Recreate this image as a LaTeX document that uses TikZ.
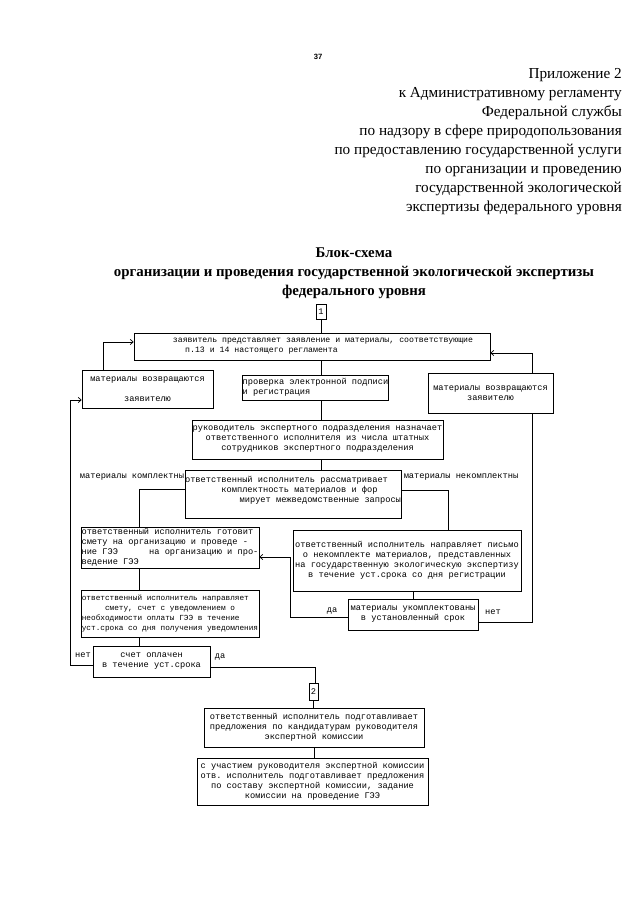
\documentclass[tikz,border=0pt]{standalone}
\usepackage{fontspec}
\setmainfont{Liberation Serif}
\setmonofont{Liberation Mono}
\newfontfamily\pagefont{Liberation Sans}
\usetikzlibrary{arrows.meta}
\newcommand{\boxfont}{\ttfamily\fontsize{7.4}{8.5}\selectfont}
\tikzset{
  block/.style 2 args={draw,line width=0.6pt,inner sep=0pt,font=\boxfont,
    minimum width=#1*0.03cm,minimum height=#2*0.03cm},
  narrow/.style={font=\ttfamily\fontsize{6.6}{8.5}\selectfont},
  note/.style={font=\boxfont,inner sep=0pt},
  flow/.style={line width=0.6pt}
}
\begin{document}
\begin{tikzpicture}[x=0.03cm,y=-0.03cm,>={Straight Barb[length=2.5pt,width=4.5pt]}]
  \useasboundingbox (0,0) rectangle (640,905);
  % header
  \node[at={(318,57)},font=\pagefont\bfseries\fontsize{6.5}{8}\selectfont] (page) {37};
  \node[at={(622,211)},anchor=base east,align=right,inner sep=0pt,
    font=\fontsize{13}{16.2}\selectfont] (annex) {Приложение 2\\%
    к Административному регламенту\\%
    Федеральной службы\\%
    по надзору в сфере природопользования\\%
    по предоставлению государственной услуги\\%
    по организации и проведению\\%
    государственной экологической\\%
    экспертизы федерального уровня};
  \node[at={(354,295)},anchor=base,align=center,inner sep=0pt,
    font=\bfseries\fontsize{12.7}{16.2}\selectfont] (title) {Блок-схема\\%
    организации и проведения государственной экологической экспертизы\\%
    федерального уровня};

  % top
  %boxes
  \node[block={10}{15},at={(321,311.5)}] (one) {1};
  \node[block={356}{27},font=\ttfamily\fontsize{7}{8.5}\selectfont,align=left,at={(312,346.5)}] (main)
    {\hspace*{18.8pt}заявитель представляет заявление и материалы, соответствующие\\
     \hspace*{18.8pt}\hspace*{1.5em}п.13 и 14 настоящего регламента};
  \node[block={131}{38},align=center,at={(147.5,389)}] (lret) {материалы возвращаются\\[8.5pt]заявителю};
  \node[block={145}{25},align=left,at={(315.5,387.5)}] (check) {проверка электронной подписи\\и регистрация};
  \node[block={125}{40},align=center,at={(490.5,393)}] (rret) {материалы возвращаются\\заявителю};
  \node[block={251}{39},align=center,at={(317.5,439.5)}] (head) {руководитель экспертного подразделения назначает\\
    ответственного исполнителя из числа штатных\\сотрудников экспертного подразделения};
  \node[block={204}{48},align=left,at={(293,494)}] (review) {ответственный исполнитель рассматривает\\
    \hspace*{4.2em}комплектность материалов и фор\\
    \hspace*{6.3em}мирует межведомственные запросы\\\mbox{}};

  % main
  %boxes
  \node[block={178}{41},align=left,at={(170,547.5)}] (estimate) {ответственный исполнитель готовит\\
    смету на организацию и проведе -\\
    ние ГЭЭ\hspace*{3em} на организацию и про-\\
    ведение ГЭЭ};
  \node[block={228}{61},align=center,at={(407,560.5)}] (letter) {ответственный исполнитель направляет письмо\\
    о некомплекте материалов, представленных\\
    на государственную экологическую экспертизу\\
    в течение уст.срока со дня регистрации};
  \node[block={130}{31},align=center,at={(413,614.5)}] (done) {материалы укомплектованы\\в установленный срок};
  \node[block={178}{47},narrow,align=left,at={(170,613.5)}] (invoice) {ответственный исполнитель направляет\\
    \hspace*{3em}смету, счет с уведомлением о\\
    необходимости оплаты ГЭЭ в течение\\
    уст.срока со дня получения уведомления};
  \node[block={117}{31},align=center,at={(151.5,661.5)}] (paid) {счет оплачен\\в течение уст.срока};

  % bottom
  %boxes
  \node[block={9}{17},at={(313.5,691.5)}] (two) {2};
  \node[block={220}{39},align=center,at={(314,727.5)}] (cand) {ответственный исполнитель подготавливает\\
    предложения по кандидатурам руководителя\\экспертной комиссии};
  \node[block={231}{47},align=center,at={(312.5,781.5)}] (board) {с участием руководителя экспертной комиссии\\
    отв. исполнитель подготавливает предложения\\
    по составу экспертной комиссии, задание\\
    комиссии на проведение ГЭЭ};

  %bends
  \coordinate (lup) at (103,342);
  \coordinate (rup) at (532,353);
  \coordinate (lok) at (139,489);
  \coordinate (rno) at (448,490);
  \coordinate (dyes) at (290,617);
  \coordinate (dup) at (290,557);
  \coordinate (dno) at (532,622);
  \coordinate (pno) at (70,665);
  \coordinate (lback) at (70,400);
  \coordinate (pyes) at (315,667);

  %links
  \draw[flow] (one.south) -- (one.south |- main.north);
  \draw[flow] (main.south -| one.south) -- (check.north -| one.south);
  \draw[flow] (check.south -| one.south) -- (head.north -| one.south);
  \draw[flow] (head.south -| one.south) -- (review.north -| one.south);
  \draw[flow,->] (lret.north -| lup) -- (lup) -- (lup -| main.west);
  \draw[flow,->] (rret.north -| rup) -- (rup) -- (rup -| main.east);
  \draw[flow] (review.west |- lok) -- (lok) -- (lok |- estimate.north);
  \draw[flow] (review.east |- rno) -- (rno) -- (rno |- letter.north);
  \draw[flow] (estimate.south -| lok) -- (invoice.north -| lok);
  \draw[flow] (invoice.south -| lok) -- (paid.north -| lok);
  \draw[flow] (done.north |- letter.south) -- (done.north);
  \draw[flow,->] (done.west |- dyes) -- (dyes) -- (dup) -- (dup -| estimate.east);
  \draw[flow] (done.east |- dno) -- (dno) -- (dno |- rret.south);
  \draw[flow,->] (paid.west |- pno) -- (pno) -- (lback) -- (lback -| lret.west);
  \draw[flow] (paid.east |- pyes) -- (pyes) -- (pyes |- two.north);
  \draw[flow] (two.south) -- (two.south |- cand.north);
  \draw[flow] (cand.south) -- (cand.south |- board.north);

  %labels
  \node[note,at={(132,477)}] (lokl) {материалы комплектны};
  \node[note,at={(461,477)}] (rnol) {материалы некомплектны};
  \node[note,at={(332,611)}] (dyesl) {да};
  \node[note,at={(493,612)}] (dnol) {нет};
  \node[note,at={(83,655)}] (pnol) {нет};
  \node[note,at={(220,657)}] (pyesl) {да};
\end{tikzpicture}
\end{document}
